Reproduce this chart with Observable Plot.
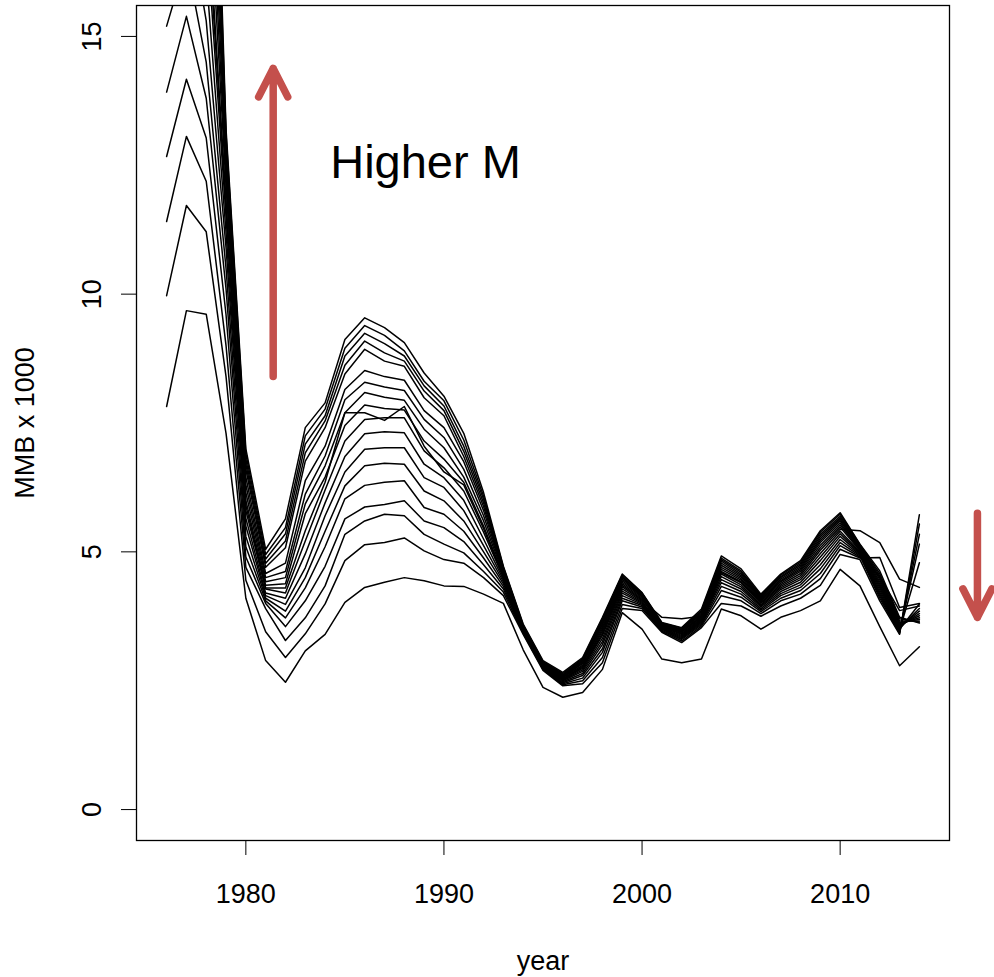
<!DOCTYPE html>
<html><head><meta charset="utf-8">
<script src="https://cdn.jsdelivr.net/npm/d3@7"></script>
<script src="https://cdn.jsdelivr.net/npm/@observablehq/plot@0.6"></script>
<style>
html,body{margin:0;padding:0;background:#fff;}
#chart svg{display:block;}
</style></head><body><div id="chart"></div>
<script>
// Years of the model runs
const years = [1976,1977,1978,1979,1980,1981,1982,1983,1984,1985,1986,1987,1988,1989,1990,1991,1992,1993,1994,1995,1996,1997,1998,1999,2000,2001,2002,2003,2004,2005,2006,2007,2008,2009,2010,2011,2012,2013,2014];

// MMB (x 1000) for each natural-mortality (M) run, lowest M first
const run01 = [7.82,9.68,9.61,7.3,4.1,2.89,2.47,3.08,3.40,4.02,4.31,4.41,4.50,4.44,4.34,4.33,4.18,4.0,3.1,2.37,2.18,2.27,2.72,3.82,3.50,2.92,2.85,2.92,3.89,3.76,3.50,3.73,3.86,4.05,4.66,4.34,3.55,2.79,3.16];
const run02 = [9.97,11.72,11.21,8.4,4.45,3.45,2.95,3.41,3.99,4.83,5.14,5.18,5.27,5.02,4.85,4.78,4.5,4.15,3.40,2.7,2.40,2.44,2.85,3.9,3.86,3.44,3.24,3.53,4.0,3.95,3.75,3.95,4.1,4.35,4.95,4.85,4.05,3.40,5.72];
const run03 = [11.41,13.06,12.19,9.0,4.7,3.9,3.28,3.72,4.34,5.34,5.60,5.73,5.70,5.34,5.15,4.98,4.62,4.22,3.42,2.72,2.42,2.5,2.95,3.98,3.9,3.46,3.27,3.56,4.15,4.05,3.8,4.05,4.18,4.48,5.05,4.88,4.89,3.92,4.0];
const run04 = [12.67,14.17,13.03,9.6,4.9,4.0,3.55,4.05,4.72,5.64,5.87,5.92,5.99,5.6,5.47,5.2,4.75,4.28,3.44,2.74,2.44,2.55,3.05,4.05,3.93,3.48,3.3,3.59,4.25,4.12,3.84,4.1,4.25,4.58,5.12,4.9,4.52,3.86,3.95];
const run05 = [13.92,15.39,13.80,10.1,5.1,4.05,3.72,4.3,5.1,6.03,6.29,6.35,6.38,5.86,5.73,5.4,4.88,4.33,3.45,2.75,2.46,2.6,3.12,4.1,3.96,3.5,3.32,3.61,4.33,4.18,3.87,4.15,4.31,4.67,5.18,4.92,4.1,3.42,5.54];
const run06 = [15.2,16.5,14.5,10.5,5.3,4.1,3.85,4.5,5.4,6.28,6.67,6.72,6.70,6.18,5.99,5.6,5.0,4.38,3.46,2.76,2.48,2.64,3.2,4.15,3.98,3.51,3.34,3.63,4.4,4.23,3.9,4.19,4.36,4.75,5.24,4.94,4.14,3.44,5.34];
const run07 = [16.4,17.6,15.3,10.9,5.5,4.15,3.98,4.69,5.7,6.55,6.99,7.02,7.02,6.44,6.25,5.8,5.12,4.42,3.47,2.77,2.5,2.68,3.26,4.2,4.0,3.52,3.36,3.65,4.46,4.28,3.93,4.23,4.41,4.83,5.3,4.96,4.18,3.46,5.15];
const run08 = [17.6,18.7,16.2,11.2,5.65,4.2,4.1,4.96,5.95,6.85,7.29,7.33,7.31,6.7,6.44,6.0,5.25,4.46,3.48,2.78,2.51,2.71,3.32,4.24,4.02,3.53,3.38,3.67,4.52,4.32,3.95,4.27,4.46,4.9,5.35,4.98,4.22,3.48,4.79];
const run09 = [18.8,19.8,17.1,11.5,5.8,4.28,4.2,5.21,6.2,7.15,7.57,7.6,7.60,6.96,6.63,6.18,5.38,4.5,3.49,2.79,2.52,2.74,3.38,4.28,4.04,3.54,3.4,3.69,4.57,4.36,3.97,4.3,4.5,4.97,5.4,5.0,4.26,3.5,3.99];
const run10 = [19.5,20.5,17.6,11.7,5.9,4.3,4.3,5.41,6.35,7.70,7.70,7.55,7.82,7.05,6.55,6.3,5.45,4.52,3.5,2.8,2.53,2.76,3.42,4.32,4.06,3.73,3.7,3.75,4.6,4.4,4.0,4.33,4.54,5.03,5.44,5.41,5.18,4.47,4.31];
const run11 = [20.0,20.9,18.0,11.8,6.0,4.35,4.38,5.74,6.45,7.45,7.85,7.78,7.75,7.15,6.80,6.35,5.5,4.54,3.5,2.8,2.54,2.78,3.46,4.35,4.08,3.55,3.42,3.71,4.62,4.42,4.02,4.36,4.58,5.08,5.48,5.02,4.3,3.52,3.9];
const run12 = [21.2,22.0,18.9,12.1,6.15,4.42,4.5,5.93,6.67,7.7,8.09,8.0,7.94,7.38,7.02,6.45,5.6,4.57,3.51,2.81,2.56,2.8,3.5,4.38,4.1,3.56,3.44,3.73,4.66,4.45,4.04,4.39,4.62,5.13,5.52,5.04,4.34,3.54,3.85];
const run13 = [22.4,23.1,19.8,12.3,6.3,4.5,4.62,6.12,6.86,7.95,8.29,8.2,8.13,7.57,7.22,6.6,5.7,4.6,3.52,2.82,2.57,2.83,3.54,4.41,4.12,3.57,3.45,3.75,4.7,4.48,4.06,4.42,4.65,5.18,5.56,5.06,4.38,3.56,3.8];
const run14 = [23.6,24.2,20.7,12.5,6.45,4.58,4.78,6.38,7.05,8.15,8.52,8.4,8.33,7.74,7.41,6.75,5.8,4.62,3.53,2.83,2.58,2.85,3.58,4.44,4.14,3.58,3.46,3.77,4.74,4.51,4.08,4.44,4.68,5.22,5.6,5.08,4.42,3.58,3.76];
const run15 = [25.0,25.4,21.6,12.7,6.6,4.7,5.08,6.76,7.41,8.45,8.93,8.70,8.60,7.99,7.64,6.85,5.88,4.64,3.54,2.84,2.6,2.87,3.61,4.47,4.15,3.59,3.48,3.79,4.78,4.54,4.1,4.47,4.71,5.26,5.63,5.1,4.46,3.6,3.72];
const run16 = [26.3,26.6,22.5,12.9,6.7,4.78,5.21,6.92,7.54,8.62,9.09,8.86,8.70,8.12,7.74,6.95,5.95,4.66,3.55,2.85,2.61,2.89,3.64,4.5,4.17,3.6,3.49,3.81,4.82,4.57,4.12,4.5,4.74,5.3,5.66,5.11,4.5,3.63,3.69];
const run17 = [27.6,27.8,23.4,13.0,6.8,4.86,5.35,7.09,7.64,8.8,9.24,9.04,8.80,8.22,7.83,7.05,6.02,4.68,3.56,2.86,2.62,2.91,3.67,4.52,4.18,3.61,3.5,3.84,4.85,4.6,4.14,4.52,4.77,5.34,5.69,5.12,4.54,3.66,3.66];
const run18 = [28.9,29.0,24.3,13.1,6.9,4.95,5.47,7.25,7.77,8.95,9.39,9.2,8.90,8.31,7.93,7.17,6.08,4.7,3.58,2.87,2.64,2.93,3.7,4.55,4.2,3.62,3.52,3.86,4.88,4.63,4.16,4.55,4.8,5.38,5.73,5.14,4.58,3.7,3.64];
const run19 = [30.2,30.2,25.2,13.2,7.0,5.05,5.64,7.41,7.89,9.12,9.54,9.35,9.06,8.47,8.02,7.3,6.15,4.72,3.6,2.89,2.66,2.95,3.73,4.57,4.21,3.63,3.53,3.89,4.92,4.67,4.18,4.57,4.83,5.41,5.76,5.15,4.63,3.73,3.62];

// Axis ticks and text
const xTicks = [1980, 1990, 2000, 2010];
const yTicks = [0, 5, 10, 15];
const xLabel = "year";
const yLabel = "MMB x 1000";

// Annotations (in data units)
const arrowYear = [1981.38, 2016.93];
const arrowFrom = [8.40, 5.75];
const arrowTo = [14.38, 3.73];
const noteText = ["Higher M"];
const noteYear = [1989.07];
const noteMMB = [12.54];

const runs = [run01,run02,run03,run04,run05,run06,run07,run08,run09,run10,run11,run12,run13,run14,run15,run16,run17,run18,run19];
const rows = runs.flatMap((vals, i) => years.map((year, j) => ({run: i, year, mmb: vals[j]})))
  .filter(d => d.mmb != null);
const arrows = arrowYear.map((x, i) => ({x, y1: arrowFrom[i], y2: arrowTo[i]}));
const notes = noteText.map((t, i) => ({t, x: noteYear[i], y: noteMMB[i]}));

const red = "#c4504c";
const fs = 27;
const chart = Plot.plot({
  width: 994,
  height: 977,
  marginLeft: 136,
  marginRight: 45,
  marginTop: 5,
  marginBottom: 137,
  style: {fontFamily: "'Liberation Sans', Arial, Helvetica, sans-serif", fontSize: fs + "px", background: "white", overflow: "visible", color: "black"},
  x: {domain: [1974.48, 2015.52]},
  y: {domain: [-0.6, 15.6]},
  marks: [
    Plot.line(rows, {x: "year", y: "mmb", z: "run", stroke: "black", strokeWidth: 1.5, clip: true}),
    Plot.frame({stroke: "black", strokeWidth: 1.3}),
    Plot.axisX({ticks: xTicks, tickFormat: d3.format("d"), tickSize: 15, tickPadding: 28, label: null, fontSize: fs}),
    Plot.axisY({ticks: yTicks, tickFormat: d3.format("d"), tickSize: 15, tickPadding: 21, tickRotate: -90, label: null, fontSize: fs}),
    Plot.text([xLabel], {text: d => d, frameAnchor: "bottom", textAnchor: "middle", lineAnchor: "bottom", dy: 129, fontSize: fs}),
    Plot.text([yLabel], {text: d => d, frameAnchor: "left", textAnchor: "middle", lineAnchor: "middle", dx: -111, rotate: -90, fontSize: fs}),
    Plot.arrow(arrows, {x1: "x", x2: "x", y1: "y1", y2: "y2", stroke: red, strokeWidth: 7.5, headAngle: 54, headLength: 6.4, strokeLinecap: "round", strokeLinejoin: "round"}),
    Plot.text(notes, {x: "x", y: "y", text: "t", fontSize: 47, textAnchor: "middle", lineAnchor: "middle", fill: "black"})
  ]
});
document.getElementById("chart").appendChild(chart);
</script>
</body></html>
